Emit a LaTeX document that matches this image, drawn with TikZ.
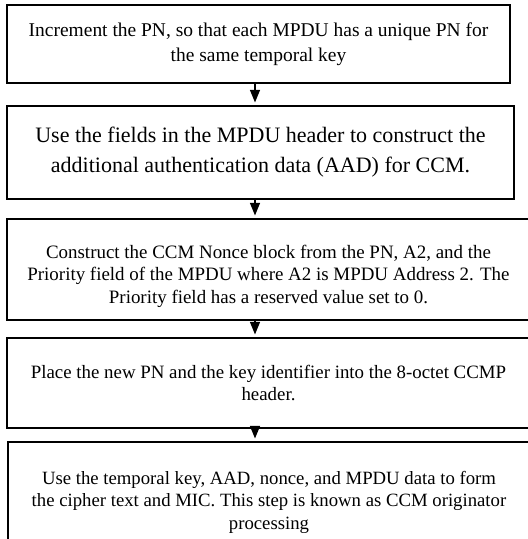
\documentclass[tikz,border=0pt]{standalone}
\usepackage{fontspec}
\setmainfont{Liberation Serif}
\usetikzlibrary{arrows.meta, positioning, calc}

\begin{document}
\begin{tikzpicture}[x=0.75pt, y=-0.75pt,
  box/.style={rectangle, draw, line width=1.3pt, align=center,
              inner sep=0pt, anchor=center},
  arr/.style={-{Triangle[width=7.5pt, length=9.5pt]}, line width=1.1pt,
              shorten >=2pt},
]
\useasboundingbox (0,0) rectangle (528,539);
% steps of the flow
\node[box, minimum width=503*0.75pt, minimum height=78*0.75pt,
      font=\fontsize{14.6}{18.75}\selectfont] (inc) at (258.5,44)
  {Increment the PN, so that each MPDU has a unique PN for\\
   the same temporal key};
\node[box, minimum width=507*0.75pt, minimum height=93*0.75pt,
      font=\fontsize{16.5}{22.5}\selectfont] (aad) at (260.5,152.5)
  {Use the fields in the MPDU header to construct the\\
   additional authentication data (AAD) for CCM.};
\node[box, minimum width=523*0.75pt, minimum height=101*0.75pt,
      font=\fontsize{14.2}{17}\selectfont] (nonce) at (268.5,269.5)
  {\rule{0pt}{20pt}Construct the CCM Nonce block from the PN, A2, and the\\
   Priority field of the MPDU where A2 is MPDU Address 2. The\\
   Priority field has a reserved value set to 0.};
\node[box, minimum width=523*0.75pt, minimum height=90*0.75pt,
      font=\fontsize{14.15}{17}\selectfont] (hdr) at (268.5,383)
  {Place the new PN and the key identifier into the 8-octet CCMP\\
   header.};
\node[box, minimum width=522*0.75pt, minimum height=103*0.75pt,
      font=\fontsize{14.05}{17}\selectfont] (enc) at (269,493.5)
  {\rule{0pt}{23pt}Use the temporal key, AAD, nonce, and MPDU data to form\\
   the cipher text and MIC. This step is known as CCM originator\\
   processing};
% arrows
\coordinate (ax) at (255,0);
\draw[arr] (inc.south -| ax) -- (aad.north -| ax);
\draw[arr] (aad.south -| ax) -- (nonce.north -| ax);
\draw[arr] (nonce.south -| ax) -- (hdr.north -| ax);
\draw[arr] (hdr.south -| ax) -- (enc.north -| ax);
\end{tikzpicture}
\end{document}
